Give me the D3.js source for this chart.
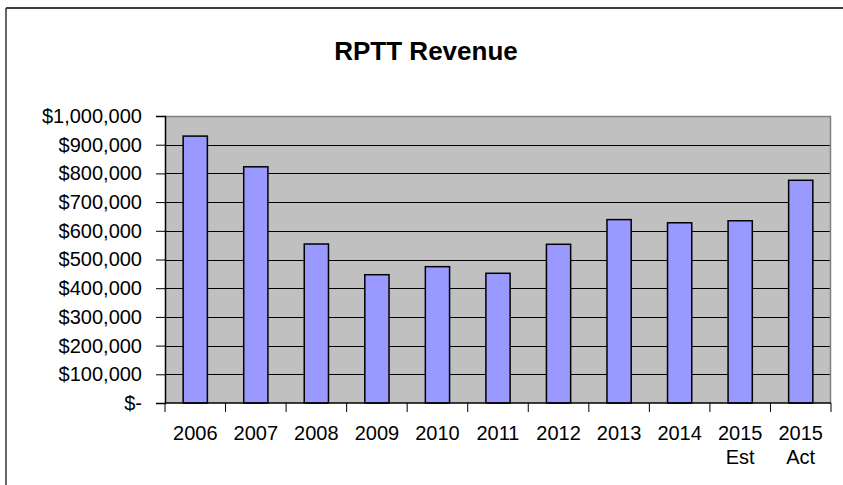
<!DOCTYPE html>
<html>
<head>
<meta charset="utf-8">
<script src="https://cdn.jsdelivr.net/npm/d3@7/dist/d3.min.js"></script>
<style>
  html, body { margin: 0; padding: 0; background: #ffffff; }
  svg { display: block; font-family: "Liberation Sans", Arial, sans-serif; }
</style>
</head>
<body>
<svg id="chart" width="843" height="485"></svg>
<script>
// ---- Data ----
const title = "RPTT Revenue";
const categories = ["2006", "2007", "2008", "2009", "2010", "2011", "2012", "2013", "2014", "2015\nEst", "2015\nAct"];
const revenue = [930000, 823000, 554000, 447000, 475000, 452000, 553000, 639000, 628000, 635000, 776000];
const yTicks = [0, 100000, 200000, 300000, 400000, 500000, 600000, 700000, 800000, 900000, 1000000];

// ---- Layout ----
const W = 843, H = 485;
const plot = { left: 165, top: 116, right: 831, bottom: 403 };

const svg = d3.select("#chart");

// outer chart border (only top & left visible in frame)
svg.append("line").attr("x1", 6).attr("y1", 8).attr("x2", W + 5).attr("y2", 8)
  .attr("stroke", "#000").attr("stroke-width", 1.5);
svg.append("line").attr("x1", 6).attr("y1", 8).attr("x2", 6).attr("y2", H + 5)
  .attr("stroke", "#333").attr("stroke-width", 1.5);

// title
svg.append("text")
  .attr("x", 426).attr("y", 60)
  .attr("text-anchor", "middle")
  .attr("font-size", 26).attr("font-weight", "bold")
  .attr("fill", "#000")
  .text(title);

const x = d3.scaleBand()
  .domain(categories)
  .range([plot.left, plot.right])
  .paddingInner(0.6)
  .paddingOuter(0.3);

const y = d3.scaleLinear()
  .domain([0, 1000000])
  .range([plot.bottom, plot.top]);

// plot background
svg.append("rect")
  .attr("x", plot.left).attr("y", plot.top)
  .attr("width", plot.right - plot.left).attr("height", plot.bottom - plot.top)
  .attr("fill", "#c0c0c0");

// gridlines
svg.append("g").selectAll("line")
  .data(yTicks.filter(d => d > 0 && d < 1000000))
  .join("line")
  .attr("x1", plot.left).attr("x2", plot.right)
  .attr("y1", d => Math.round(y(d)) + 0.5).attr("y2", d => Math.round(y(d)) + 0.5)
  .attr("stroke", "#000").attr("stroke-width", 1);

// plot border top/right (gray)
svg.append("path")
  .attr("d", `M${plot.left},${plot.top + 0.5}H${plot.right - 0.5}V${plot.bottom}`)
  .attr("fill", "none").attr("stroke", "#808080").attr("stroke-width", 1.5);

// bars
svg.append("g").selectAll("rect")
  .data(categories.map((c, i) => ({ c, v: revenue[i] })))
  .join("rect")
  .attr("x", d => x(d.c))
  .attr("y", d => y(d.v))
  .attr("width", x.bandwidth())
  .attr("height", d => y(0) - y(d.v))
  .attr("fill", "#9999ff")
  .attr("stroke", "#000")
  .attr("stroke-width", 1.5);

// y axis
const fmt = d3.format(",");
const yAxis = d3.axisLeft(y)
  .tickValues(yTicks)
  .tickSize(9)
  .tickPadding(14)
  .tickFormat(d => d === 0 ? "$-" : "$" + fmt(d));
const gy = svg.append("g")
  .attr("transform", `translate(${plot.left},0)`)
  .call(yAxis);
gy.select(".domain").attr("stroke", "#000").attr("stroke-width", 1.5);
gy.selectAll(".tick line").attr("stroke", "#000").attr("stroke-width", 1);
gy.selectAll(".tick text")
  .attr("font-size", 20)
  .attr("font-family", "Liberation Sans, Arial, sans-serif")
  .attr("fill", "#000");

// x axis baseline
svg.append("line")
  .attr("x1", plot.left).attr("x2", plot.right)
  .attr("y1", plot.bottom).attr("y2", plot.bottom)
  .attr("stroke", "#000").attr("stroke-width", 1.5);

// x ticks at category boundaries
const boundaries = d3.range(categories.length + 1).map(i => plot.left + i * (plot.right - plot.left) / categories.length);
svg.append("g").selectAll("line")
  .data(boundaries)
  .join("line")
  .attr("x1", d => d).attr("x2", d => d)
  .attr("y1", plot.bottom).attr("y2", plot.bottom + 9)
  .attr("stroke", "#000").attr("stroke-width", 1);

// x labels
const xl = svg.append("g").selectAll("text")
  .data(categories)
  .join("text")
  .attr("x", d => x(d) + x.bandwidth() / 2)
  .attr("y", 440)
  .attr("text-anchor", "middle")
  .attr("font-size", 20)
  .attr("fill", "#000");
xl.each(function(d) {
  const lines = d.split("\n");
  const t = d3.select(this);
  lines.forEach((ln, i) => {
    t.append("tspan")
      .attr("x", x(d) + x.bandwidth() / 2)
      .attr("dy", i === 0 ? 0 : 24)
      .text(ln);
  });
});
</script>
</body>
</html>
